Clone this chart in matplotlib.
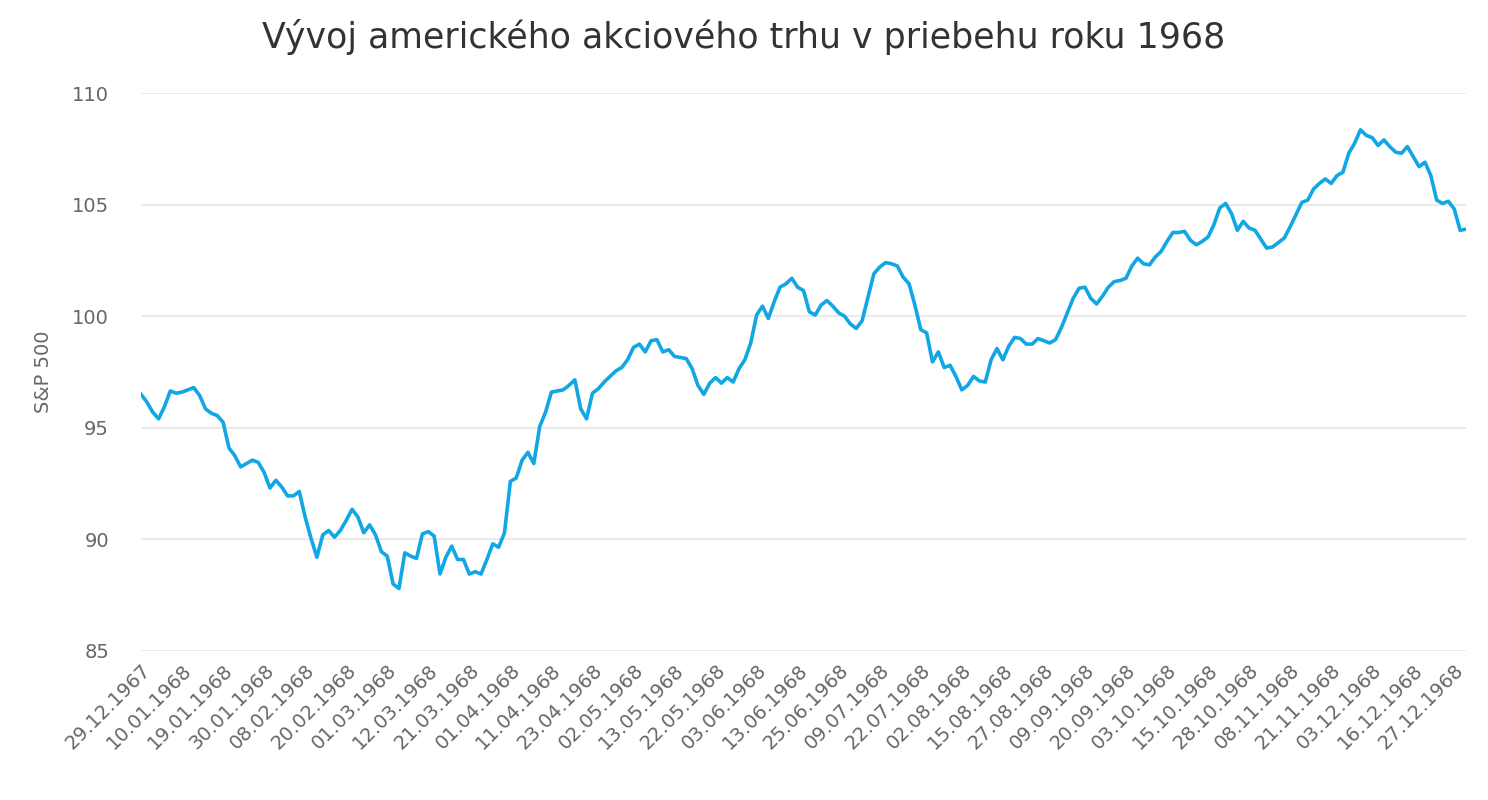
import matplotlib.pyplot as plt

title = 'Vývoj amerického akciového trhu v priebehu roku 1968'
y_label = 'S&P 500'

# S&P 500 close per trading day, 29.12.1967 .. 31.12.1968
sp500 = [
    96.5, 96.15, 95.7, 95.4, 95.95, 96.65, 96.55, 96.6, 96.7, 96.8,
    96.45, 95.85, 95.65, 95.55, 95.25, 94.1, 93.75, 93.25, 93.4, 93.55,
    93.45, 93.0, 92.3, 92.65, 92.35, 91.95, 91.95, 92.15, 91.0, 90.05,
    89.2, 90.2, 90.4, 90.1, 90.4, 90.85, 91.35, 91.0, 90.3, 90.65,
    90.2, 89.45, 89.25, 88.0, 87.8, 89.4, 89.25, 89.15, 90.25, 90.35,
    90.15, 88.45, 89.2, 89.7, 89.1, 89.1, 88.45, 88.55, 88.45, 89.1,
    89.8, 89.65, 90.3, 92.6, 92.75, 93.55, 93.9, 93.4, 95.05, 95.7,
    96.6, 96.65, 96.7, 96.9, 97.15, 95.85, 95.4, 96.55, 96.75, 97.05,
    97.3, 97.55, 97.7, 98.05, 98.6, 98.75, 98.4, 98.9, 98.95, 98.4,
    98.5, 98.2, 98.15, 98.1, 97.65, 96.9, 96.5, 97.0, 97.25, 97.0,
    97.25, 97.05, 97.65, 98.05, 98.8, 100.05, 100.45, 99.9, 100.65, 101.3,
    101.45, 101.7, 101.3, 101.15, 100.2, 100.05, 100.5, 100.7, 100.45, 100.15,
    100.0, 99.65, 99.45, 99.8, 100.85, 101.9, 102.2, 102.4, 102.35, 102.25,
    101.75, 101.45, 100.5, 99.4, 99.25, 97.95, 98.4, 97.7, 97.8, 97.3,
    96.7, 96.9, 97.3, 97.1, 97.05, 98.05, 98.55, 98.05, 98.65, 99.05,
    99.0, 98.75, 98.75, 99.0, 98.9, 98.8, 98.95, 99.5, 100.15, 100.8,
    101.25, 101.3, 100.8, 100.55, 100.9, 101.3, 101.55, 101.6, 101.7, 102.25,
    102.6, 102.35, 102.3, 102.65, 102.9, 103.35, 103.75, 103.75, 103.8, 103.4,
    103.2, 103.35, 103.55, 104.1, 104.85, 105.05, 104.6, 103.85, 104.25, 103.95,
    103.85, 103.45, 103.05, 103.1, 103.3, 103.5, 104.0, 104.55, 105.1, 105.2,
    105.7, 105.95, 106.15, 105.95, 106.3, 106.45, 107.3, 107.75, 108.35, 108.1,
    108.0, 107.65, 107.9, 107.6, 107.35, 107.3, 107.6, 107.15, 106.7, 106.9,
    106.3, 105.2, 105.05, 105.15, 104.8, 103.85, 103.9,
]

# every 7th trading day gets a label
tick_labels = [
    '29.12.1967', '10.01.1968', '19.01.1968', '30.01.1968', '08.02.1968',
    '20.02.1968', '01.03.1968', '12.03.1968', '21.03.1968', '01.04.1968',
    '11.04.1968', '23.04.1968', '02.05.1968', '13.05.1968', '22.05.1968',
    '03.06.1968', '13.06.1968', '25.06.1968', '09.07.1968', '22.07.1968',
    '02.08.1968', '15.08.1968', '27.08.1968', '09.09.1968', '20.09.1968',
    '03.10.1968', '15.10.1968', '28.10.1968', '08.11.1968', '21.11.1968',
    '03.12.1968', '16.12.1968', '27.12.1968',
]
tick_step = 7

plt.rcParams['font.family'] = ['DejaVu Sans']

fig = plt.figure(figsize=(14.88, 8), dpi=100)
ax = fig.add_axes([141 / 1488, 1 - 651 / 800, (1466 - 141) / 1488, (651 - 93) / 800])

ax.plot(range(len(sp500)), sp500, color='#10a7e4', lw=2.6, solid_joinstyle='round')

ax.set_xlim(0, len(sp500) - 1)
ax.set_ylim(85, 110)
ax.set_yticks([85, 90, 95, 100, 105, 110])
ax.set_xticks([i * tick_step for i in range(len(tick_labels))])
ax.set_xticklabels(tick_labels, rotation=45, ha='right', rotation_mode='anchor')

ax.grid(axis='y', color='#e6e6e6', lw=1.2)
ax.set_axisbelow(True)
for s in ax.spines.values():
    s.set_visible(False)
ax.tick_params(axis='both', length=0, colors='#666666', labelsize=14)
ax.tick_params(axis='y', pad=23)
ax.tick_params(axis='x', pad=7)

ax.set_ylabel(y_label, color='#666666', fontsize=14)
ax.yaxis.set_label_coords(-0.0665, 0.5)
fig.text(0.5, 1 - 37 / 800, title, fontsize=25, color='#333333', ha='center', va='center')

fig.savefig('out.png', dpi=100)
